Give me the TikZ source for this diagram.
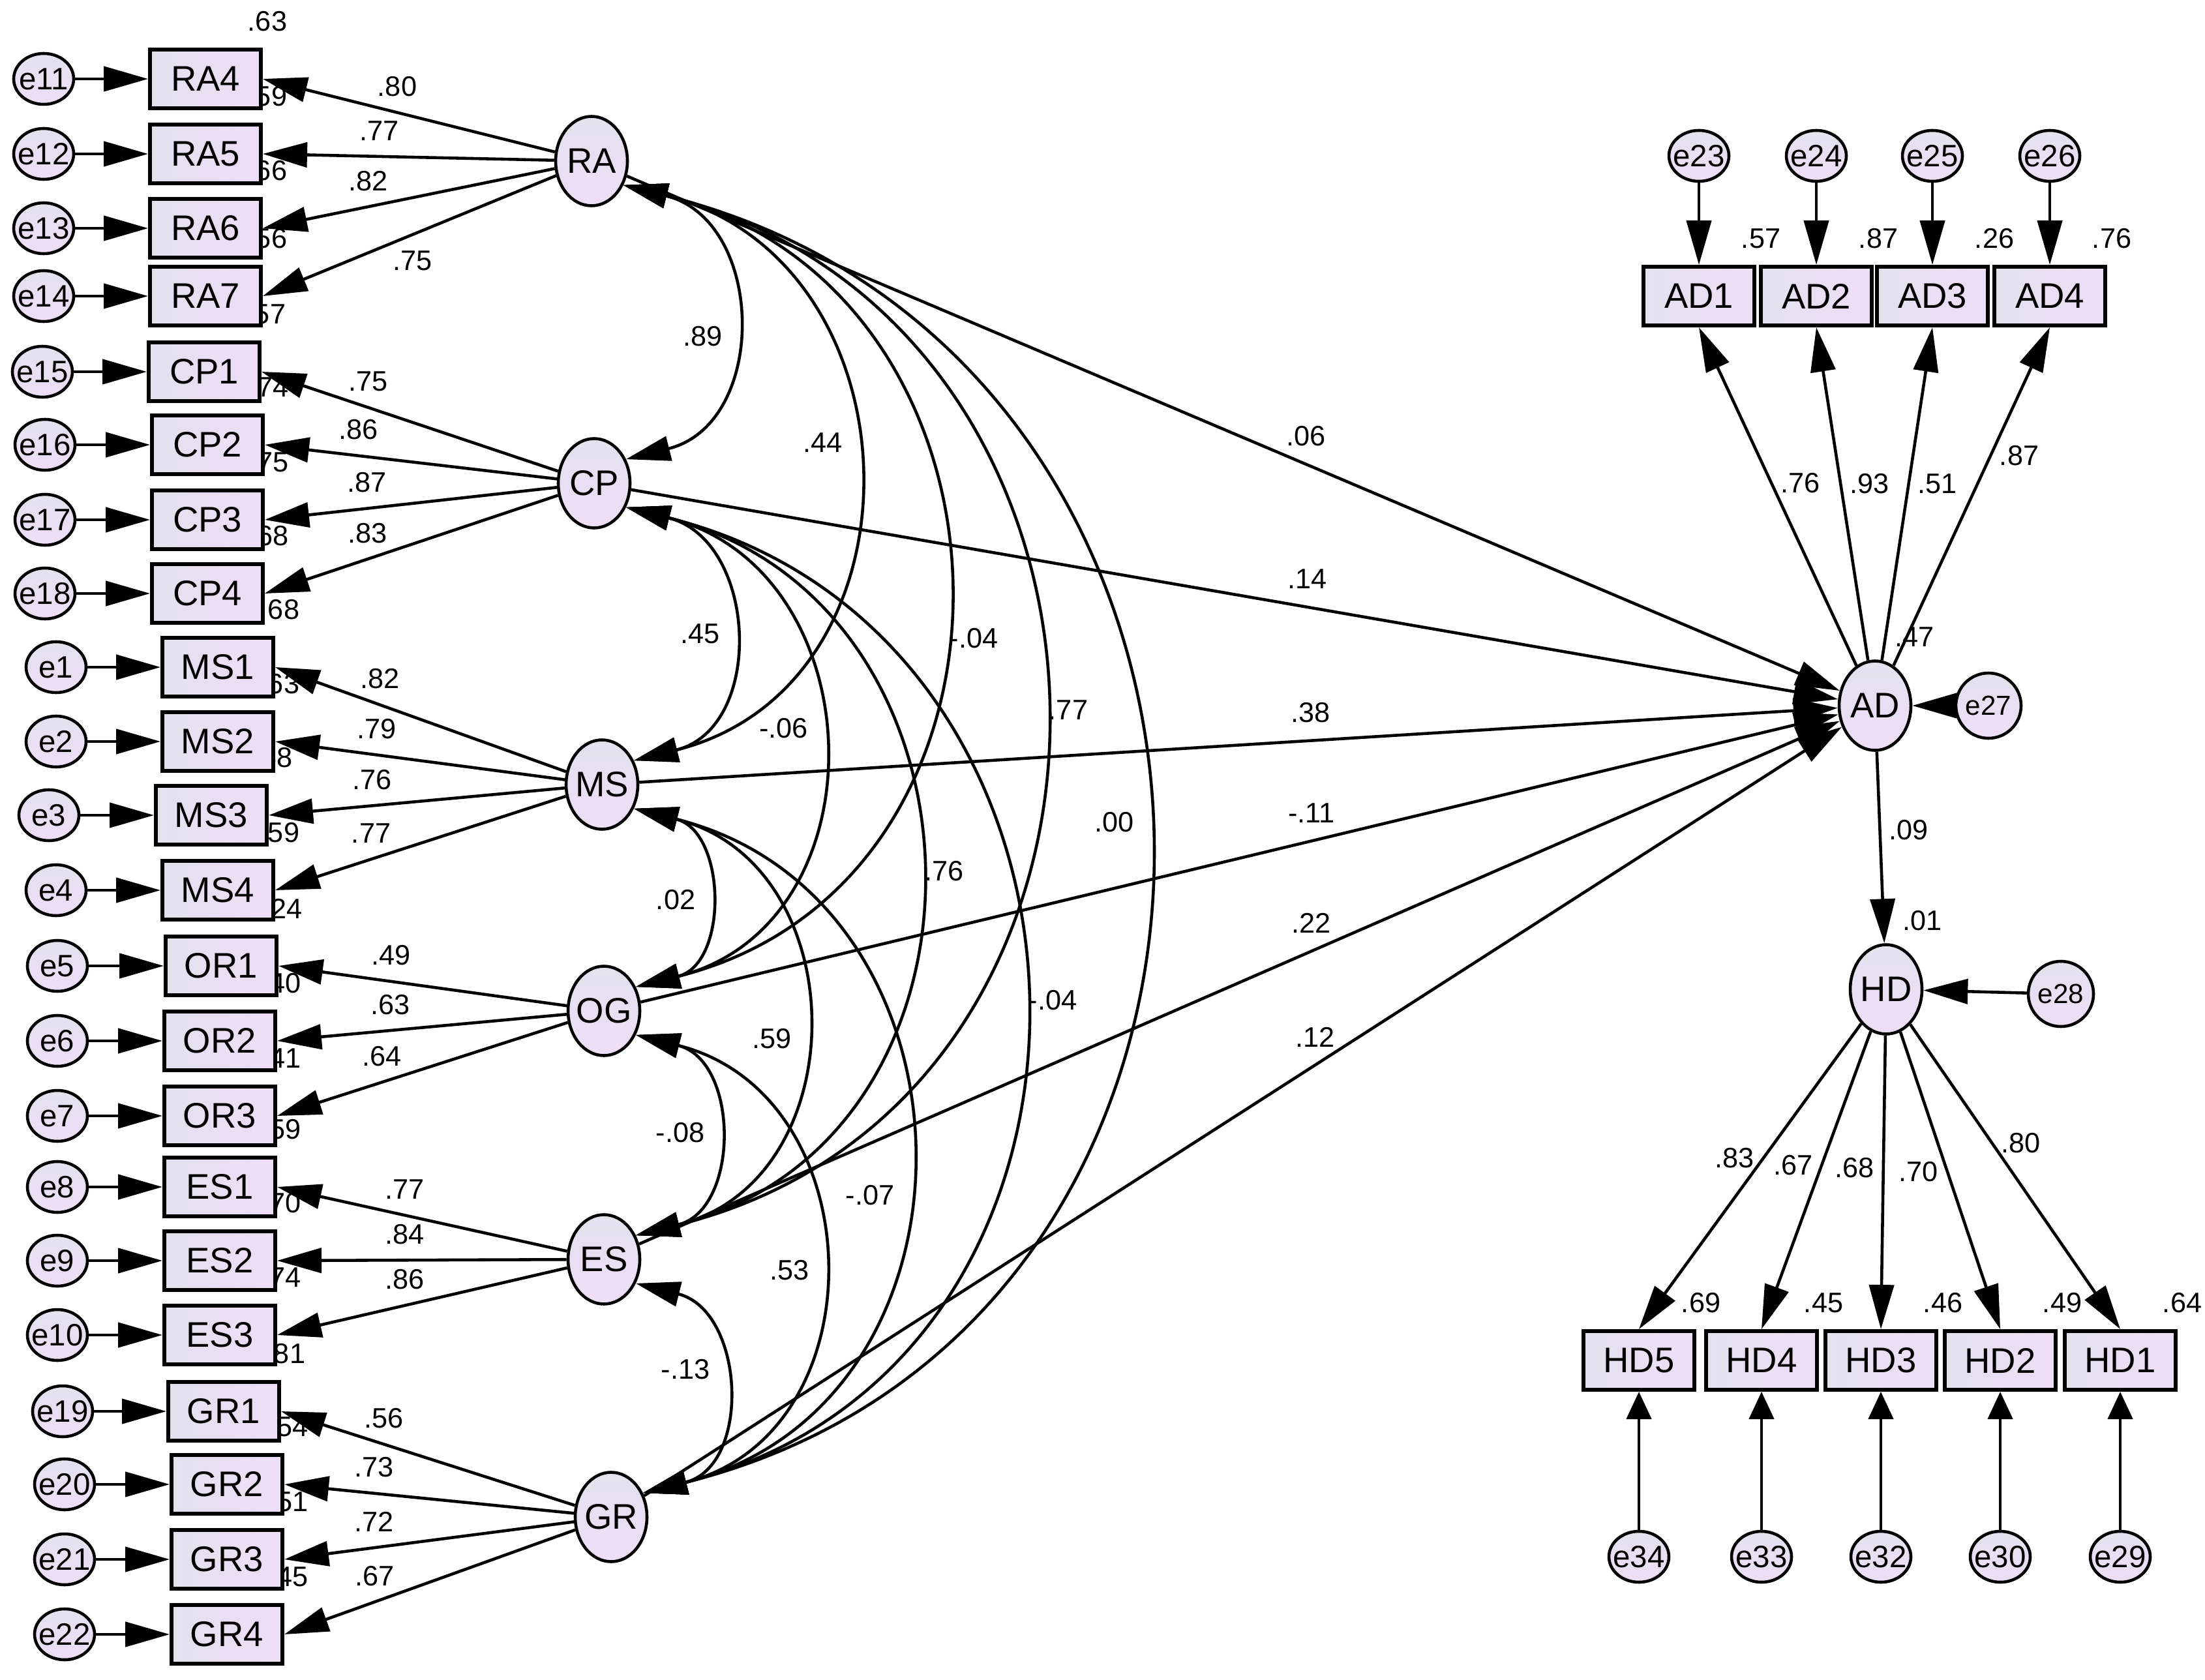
\documentclass[tikz,border=0pt]{standalone}
\usepackage{fontspec}
\setmainfont{Liberation Sans}
\usetikzlibrary{arrows.meta,shapes.geometric,positioning,calc}

\definecolor{shadeL}{RGB}{226,226,238}
\definecolor{shadeR}{RGB}{238,221,246}

\pgfdeclarelayer{back}
\pgfsetlayers{back,main}

\tikzset{
  obs/.style={draw, line width=1.7pt, minimum width=1.7cm, minimum height=0.9cm,
    inner sep=0pt, left color=shadeL, right color=shadeR,
    font=\fontsize{15.5}{18}\selectfont},
  lat/.style={ellipse, draw, line width=1.3pt, minimum width=1.1cm,
    minimum height=1.37cm, inner xsep=-1.5pt, inner ysep=0pt,
    top color=shadeL, bottom color=shadeR, font=\fontsize{15.5}{18}\selectfont},
  err/.style={ellipse, draw, line width=1.3pt, minimum width=0.92cm,
    minimum height=0.78cm, inner xsep=-2.5pt, inner ysep=0pt,
    top color=shadeL, bottom color=shadeR, font=\fontsize{13.5}{16}\selectfont},
  errc/.style={err, minimum width=1cm, minimum height=1cm,
    font=\fontsize{12}{14}\selectfont},
  val/.style={font=\fontsize{12.3}{14}\selectfont},
  link/.style={line width=1.3pt, ->},
  covar/.style={line width=1.3pt, <->},
  errup/.style={line width=1.3pt, -{Triangle[length=0.42cm,width=0.38cm]}},
  bow/.style={out=-14, in=14, looseness=1.37}
}

\begin{document}
\begin{tikzpicture}[>={Triangle[length=0.68cm,width=0.38cm]}]

    \useasboundingbox (0,0) rectangle (33.81,-25.76);

    % Exogenous factors
    \node[lat] (RA) at (9.07,-2.47) {RA};
    \node[lat] (CP) at (9.11,-7.41) {CP};
    \node[lat] (MS) at (9.23,-12.03) {MS};
    \node[lat] (OG) at (9.26,-15.50) {OG};
    \node[lat] (ES) at (9.26,-19.31) {ES};
    \node[lat] (GR) at (9.37,-23.26) {GR};

    % Endogenous factors and their disturbances
    \node[lat] (AD) at (28.75,-10.82) {AD};
    \node[lat] (HD) at (28.92,-15.17) {HD};
    \node[errc] (e27) at (30.49,-10.82) {e27};
    \node[errc] (e28) at (31.60,-15.24) {e28};
    \draw[link] (e27) -- (AD);
    \draw[link] (e28) -- (HD);

    % Left indicators with their error terms
    \foreach \ind/\ix/\iy/\er/\erx in {RA4/3.15/-1.21/e11/0.67, RA5/3.15/-2.36/e12/0.67,
        RA6/3.15/-3.50/e13/0.67, RA7/3.15/-4.54/e14/0.67,
        CP1/3.13/-5.70/e15/0.65, CP2/3.18/-6.82/e16/0.69,
        CP3/3.18/-7.97/e17/0.69, CP4/3.18/-9.10/e18/0.69,
        MS1/3.34/-10.23/e1/0.86, MS2/3.34/-11.37/e2/0.86,
        MS3/3.24/-12.50/e3/0.75, MS4/3.34/-13.65/e4/0.86,
        OR1/3.39/-14.81/e5/0.88, OR2/3.37/-15.96/e6/0.88, OR3/3.37/-17.11/e7/0.88,
        ES1/3.37/-18.20/e8/0.88, ES2/3.37/-19.33/e9/0.88, ES3/3.37/-20.47/e10/0.88,
        GR1/3.43/-21.64/e19/0.96, GR2/3.48/-22.76/e20/0.99,
        GR3/3.48/-23.91/e21/0.99, GR4/3.48/-25.06/e22/0.99}{
      \node[obs] (\ind) at (\ix,\iy) {\ind};
      \node[err] (\er) at (\erx,\iy) {\er};
      \draw[link] (\er) -- (\ind);
    }

    % Loadings of the left block
    \foreach \fac/\ind/\lab/\p in {RA/RA4/.80/0.54, RA/RA5/.77/0.60, RA/RA6/.82/0.64,
        CP/CP1/.75/0.64, CP/CP2/.86/0.68, CP/CP3/.87/0.65, CP/CP4/.83/0.65,
        MS/MS1/.82/0.64, MS/MS2/.79/0.65, MS/MS3/.76/0.65, MS/MS4/.77/0.67,
        OG/OR1/.49/0.61, OG/OR2/.63/0.61, OG/OR3/.64/0.64,
        ES/ES1/.77/0.56, ES/ES2/.84/0.56, ES/ES3/.86/0.56,
        GR/GR1/.56/0.65, GR/GR2/.73/0.69, GR/GR3/.72/0.69, GR/GR4/.67/0.69}
      \draw[link] (\fac) -- (\ind.east) node[val, pos=\p, above=3pt] {\lab};
    \draw[link] (RA) -- (RA7.east) node[val, pos=0.49, below=3pt] {.75};

    % Correlations among the exogenous factors
    \foreach \fa/\fb/\lab/\p in {RA/CP/.89/0.54, CP/MS/.45/0.5, MS/OG/.02/0.51,
        OG/ES/-.08/0.49, ES/GR/-.13/0.43, RA/MS/.44/0.46, CP/OG/-.06/0.47,
        MS/ES/.59/0.53, OG/GR/.53/0.51, MS/GR/-.07/0.55, RA/GR/.00/0.49}
      \draw[covar] (\fa.-37) to[bow] node[val, pos=\p, left] {\lab} (\fb.37);
    \foreach \fa/\fb/\lab/\p in {RA/OG/-.04/0.55, CP/ES/.76/0.5,
        RA/ES/.77/0.5, CP/GR/-.04/0.5}
      \draw[covar] (\fa.-37) to[bow] node[val, pos=\p, right] {\lab} (\fb.37);

    % Paths into AD
    \foreach \fac/\lab in {RA/.06, CP/.14, MS/.38, OG/-.11, ES/.22, GR/.12}
      \draw[link] (\fac) -- (AD) node[val, pos=0.56, above=4pt] {\lab};
    \draw[link] (AD) -- (HD) node[val, pos=0.41, right] {.09};

    % AD indicators
    \foreach \ind/\ix/\er/\lab/\p in {AD1/26.05/e23/.76/0.54, AD2/27.85/e24/.93/0.53,
        AD3/29.63/e25/.51/0.53, AD4/31.43/e26/.87/0.62}{
      \node[obs] (\ind) at (\ix,-4.54) {\ind};
      \node[err] (\er) at (\ix,-2.39) {\er};
      \draw[link] (\er) -- (\ind);
      \draw[link] (AD) -- (\ind.south) node[val, pos=\p, right] {\lab};
    }

    % HD indicators
    \foreach \ind/\ix/\er in {HD5/25.13/e34, HD4/27.01/e33, HD3/28.84/e32,
        HD2/30.67/e30, HD1/32.51/e29}{
      \node[obs] (\ind) at (\ix,-20.86) {\ind};
      \node[err] (\er) at (\ix,-23.87) {\er};
      \draw[errup] (\er) -- (\ind);
    }
    \foreach \ind/\lab/\p in {HD5/.83/0.44, HD4/.67/0.45, HD3/.68/0.45, HD2/.70/0.47}
      \draw[link] (HD) -- (\ind.north) node[val, pos=\p, left] {\lab};
    \draw[link] (HD) -- (HD1.north) node[val, pos=0.39, right] {.80};

    % Squared multiple correlations
    \begin{pgfonlayer}{back}
      \foreach \ind/\lab in {RA4/.63, RA5/.59, RA6/.66, RA7/.56, CP1/.57, CP2/.74,
          CP3/.75, CP4/.68, MS1/.68, MS2/.63, MS3/.58, MS4/.59, OR1/.24, OR2/.40,
          OR3/.41, ES1/.59, ES2/.70, ES3/.74, GR1/.81, GR2/.54, GR3/.51, GR4/.45,
          AD1/.57, AD2/.87, AD3/.26, AD4/.76,
          HD5/.69, HD4/.45, HD3/.46, HD2/.49, HD1/.64}
        \node[val] (r\ind) at ($(\ind.north east)+(0.07,0.40)$) {\lab};
    \end{pgfonlayer}
    \node[val] (rAD) at ($(AD.north)+(0.60,0.35)$) {.47};
    \node[val] (rHD) at ($(HD.north)+(0.55,0.35)$) {.01};

\end{tikzpicture}
\end{document}
